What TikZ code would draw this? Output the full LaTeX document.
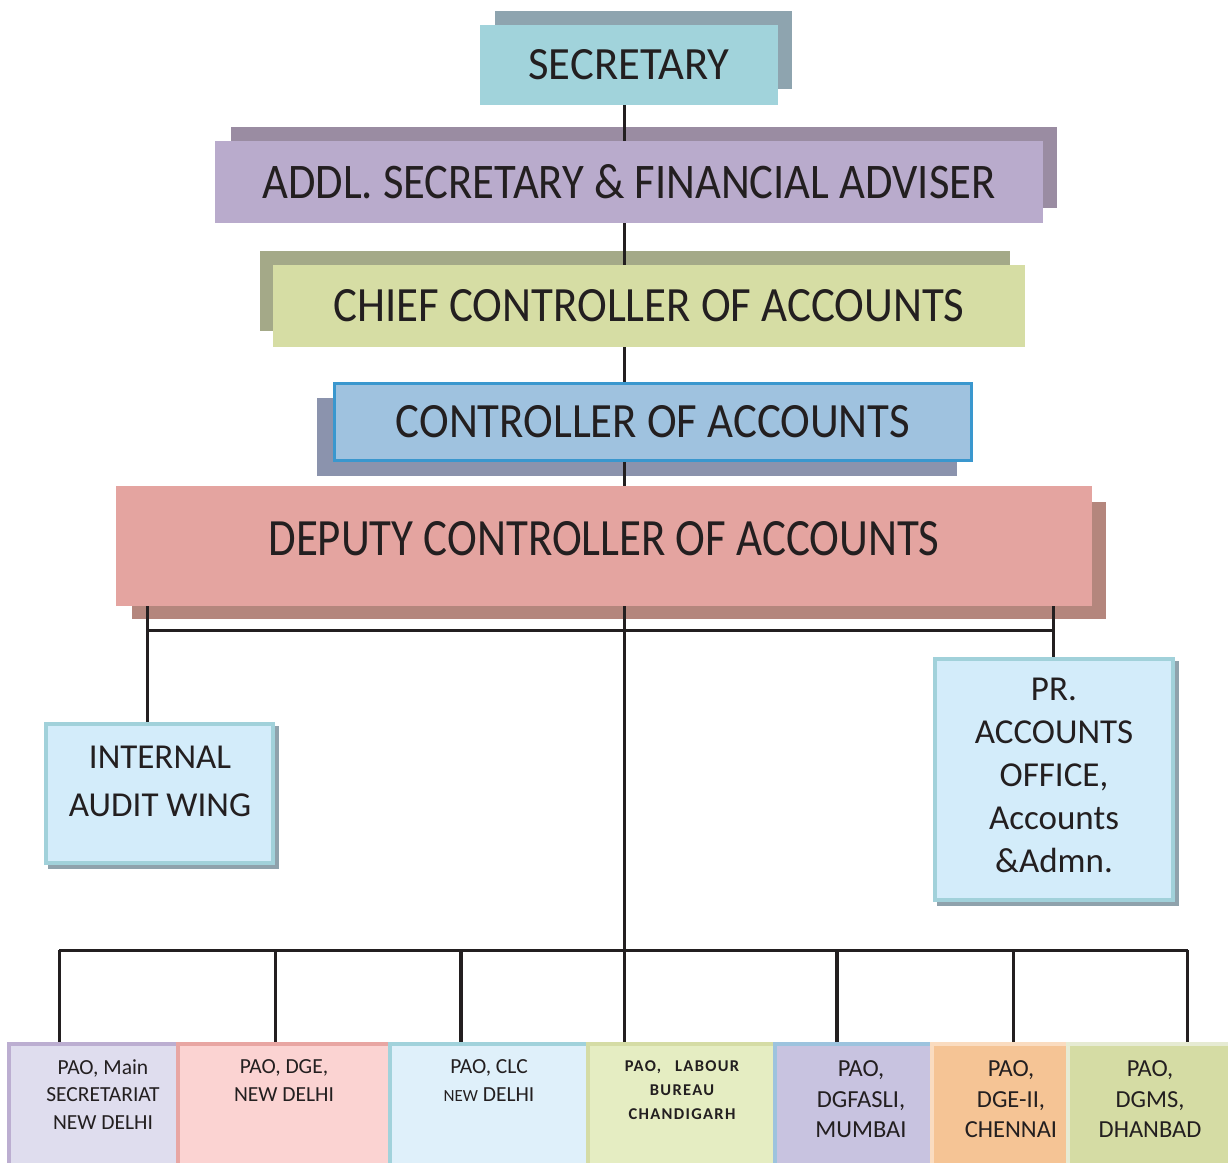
\documentclass[tikz,border=0pt]{standalone}
\usepackage{fontspec}
\setmainfont{Carlito}
\usepackage{graphicx}
\pgfdeclarelayer{shadowlayer}
\pgfdeclarelayer{linelayer}
\pgfsetlayers{shadowlayer,linelayer,main}
\definecolor{txt}{HTML}{231F20}
\definecolor{secfill}{HTML}{A1D3DB}
\definecolor{secshadow}{HTML}{8EA4AF}
\definecolor{addlfill}{HTML}{B9ABCC}
\definecolor{addlshadow}{HTML}{9A8CA2}
\definecolor{chieffill}{HTML}{D6DDA4}
\definecolor{chiefshadow}{HTML}{A4A988}
\definecolor{ctrlfill}{HTML}{9FC2DF}
\definecolor{ctrlborder}{HTML}{3A97CE}
\definecolor{ctrlshadow}{HTML}{8B93AD}
\definecolor{depfill}{HTML}{E4A4A0}
\definecolor{depshadow}{HTML}{B4867D}
\definecolor{sidefill}{HTML}{D3ECFA}
\definecolor{sideborder}{HTML}{A1D1DA}
\definecolor{sideshadow}{HTML}{8FA2AC}
\definecolor{bafill}{HTML}{DFDDEE}\definecolor{badraw}{HTML}{BCAED1}
\definecolor{bbfill}{HTML}{FBD3D2}\definecolor{bbdraw}{HTML}{E8A6A3}
\definecolor{bcfill}{HTML}{DFF0FA}\definecolor{bcdraw}{HTML}{A1D2DB}
\definecolor{bdfill}{HTML}{E5EDC2}\definecolor{bddraw}{HTML}{D5DCA5}
\definecolor{befill}{HTML}{C8C3E0}\definecolor{bedraw}{HTML}{9DC3DE}
\definecolor{bffill}{HTML}{F5C495}\definecolor{bfdraw}{HTML}{FADCC0}
\definecolor{bgfill}{HTML}{D5DCA4}\definecolor{bgdraw}{HTML}{E6EBD3}
\tikzset{
  title/.style={rectangle, inner sep=0pt, text=txt},
  conn/.style={line width=3pt, draw=txt},
  sidebox/.style={rectangle, draw=sideborder, line width=4pt, fill=sidefill, inner sep=0pt},
  sidetext/.style={align=center, text=txt, inner sep=0pt, font=\fontsize{35}{43}\selectfont},
  paobox/.style={rectangle, line width=4pt, inner sep=0pt, minimum height=136pt},
  paotext/.style={align=center, text=txt, inner sep=0pt},
}
\begin{document}
\begin{tikzpicture}[x=1pt,y=-1pt]
\useasboundingbox (0,0) rectangle (1228,1162);
\begin{pgfonlayer}{shadowlayer}
  \fill[white] (0,0) rectangle (1228,1162);
  \fill[secshadow] (495,11) rectangle (792,89);
  \fill[addlshadow] (231,127) rectangle (1057,208);
  \fill[chiefshadow] (260,251) rectangle (1010,331);
  \fill[ctrlshadow] (317,398) rectangle (957,476);
  \fill[depshadow] (132,502) rectangle (1106,619);
  \fill[sideshadow] (48,726) rectangle (279,869);
  \fill[sideshadow] (937,661) rectangle (1179,906);
\end{pgfonlayer}

% main hierarchy
\node[title, fill=secfill, minimum width=298pt, minimum height=80pt] (sec) at (629,65) {\resizebox{201pt}{30pt}{SECRETARY}};
\node[title, fill=addlfill, minimum width=828pt, minimum height=82pt] (addl) at (629,182) {\resizebox{733pt}{34pt}{ADDL. SECRETARY \& FINANCIAL ADVISER}};
\node[title, fill=chieffill, minimum width=752pt, minimum height=82pt] (chief) at (649,306) {\resizebox{631pt}{32pt}{CHIEF CONTROLLER OF ACCOUNTS}};
\node[title, fill=ctrlfill, draw=ctrlborder, line width=3.5pt, minimum width=637pt, minimum height=77pt] (ctrl) at (653,422) {\resizebox{514pt}{32pt}{CONTROLLER OF ACCOUNTS}};
\node[title, fill=depfill, minimum width=976pt, minimum height=120pt, text depth=16pt] (dep) at (604,546) {\resizebox{671pt}{34pt}{DEPUTY CONTROLLER OF ACCOUNTS}};

% side boxes
\node[sidebox, minimum width=227pt, minimum height=139pt] (iaw) at (159.5,793.5) {};
\node[sidetext] (iawt) at (160,781) {INTERNAL\\[5pt]AUDIT WING};
\node[sidebox, minimum width=238pt, minimum height=241pt] (pr) at (1054,779.5) {};
\node[sidetext] (prt) at (1054,775.5) {PR.\\ACCOUNTS\\OFFICE,\\Accounts\\\&Admn.};

% bottom row
\node[paobox, fill=bafill, draw=badraw, minimum width=169pt] (b1) at (93.5,1112) {};
\node[paobox, fill=bbfill, draw=bbdraw, minimum width=212pt] (b2) at (284,1112) {};
\node[paobox, fill=bcfill, draw=bcdraw, minimum width=198pt] (b3) at (489,1112) {};
\node[paobox, fill=bdfill, draw=bddraw, minimum width=187pt] (b4) at (681.5,1112) {};
\node[paobox, fill=befill, draw=bedraw, minimum width=157pt] (b5) at (853.5,1112) {};
\node[paobox, fill=bffill, draw=bfdraw, minimum width=136pt] (b6) at (1000,1112) {};
\node[paobox, fill=bgfill, draw=bgdraw, minimum width=162pt] (b7) at (1149,1112) {};

\node[paotext, font=\fontsize{21.5}{27.5}\selectfont] (t1) at (103,1094.5) {PAO, Main\\SECRETARIAT\\NEW DELHI};
\node[paotext, font=\fontsize{21.5}{28}\selectfont] (t2) at (284,1081) {PAO, DGE,\\NEW DELHI};
\node[paotext, font=\fontsize{21.5}{27.5}\selectfont] (t3) at (489,1080.5) {PAO, CLC\\{\fontsize{17}{20}\selectfont NEW} DELHI};
\node[paotext, font=\fontsize{16.5}{24}\selectfont\bfseries\addfontfeature{LetterSpace=8}] (t4) at (682,1090) {PAO,\hspace{14pt}LABOUR\\BUREAU\\CHANDIGARH};
\node[paotext, font=\fontsize{24.5}{30.5}\selectfont] (t5) at (861,1099.5) {PAO,\\DGFASLI,\\MUMBAI};
\node[paotext, font=\fontsize{24.5}{30.5}\selectfont] (t6) at (1011,1099.5) {PAO,\\DGE-II,\\CHENNAI};
\node[paotext, font=\fontsize{24.5}{30.5}\selectfont] (t7) at (1150,1099.5) {PAO,\\DGMS,\\DHANBAD};

% connectors
\coordinate (trunk) at (624,0);
\coordinate (lt) at (147,630);
\coordinate (rt) at (1053,630);
\coordinate (bl) at (59,950);
\coordinate (br) at (1188,950);
\coordinate (d1) at (59,950);
\coordinate (d2) at (275,950);
\coordinate (d3) at (461,950);
\coordinate (d5) at (837,950);
\coordinate (d6) at (1013,950);
\coordinate (d7) at (1187,950);
\begin{pgfonlayer}{linelayer}
  \draw[conn] (sec.south -| trunk) -- (dep.north -| trunk);
  \draw[conn] (dep.south -| trunk) -- (b4.north -| trunk);
  \draw[conn] (lt) -- (rt);
  \draw[conn] (dep.south -| lt) -- (iaw.north -| lt);
  \draw[conn] (dep.south -| rt) -- (pr.north -| rt);
  \draw[conn] (bl) -- (br);
  \draw[conn] (d1) -- (d1 |- b1.north);
  \draw[conn] (d2) -- (d2 |- b2.north);
  \draw[conn, line width=3.8pt] (d3) -- (d3 |- b3.north);
  \draw[conn, line width=3.8pt] (d5) -- (d5 |- b5.north);
  \draw[conn] (d6) -- (d6 |- b6.north);
  \draw[conn] (d7) -- (d7 |- b7.north);
\end{pgfonlayer}
\end{tikzpicture}
\end{document}
